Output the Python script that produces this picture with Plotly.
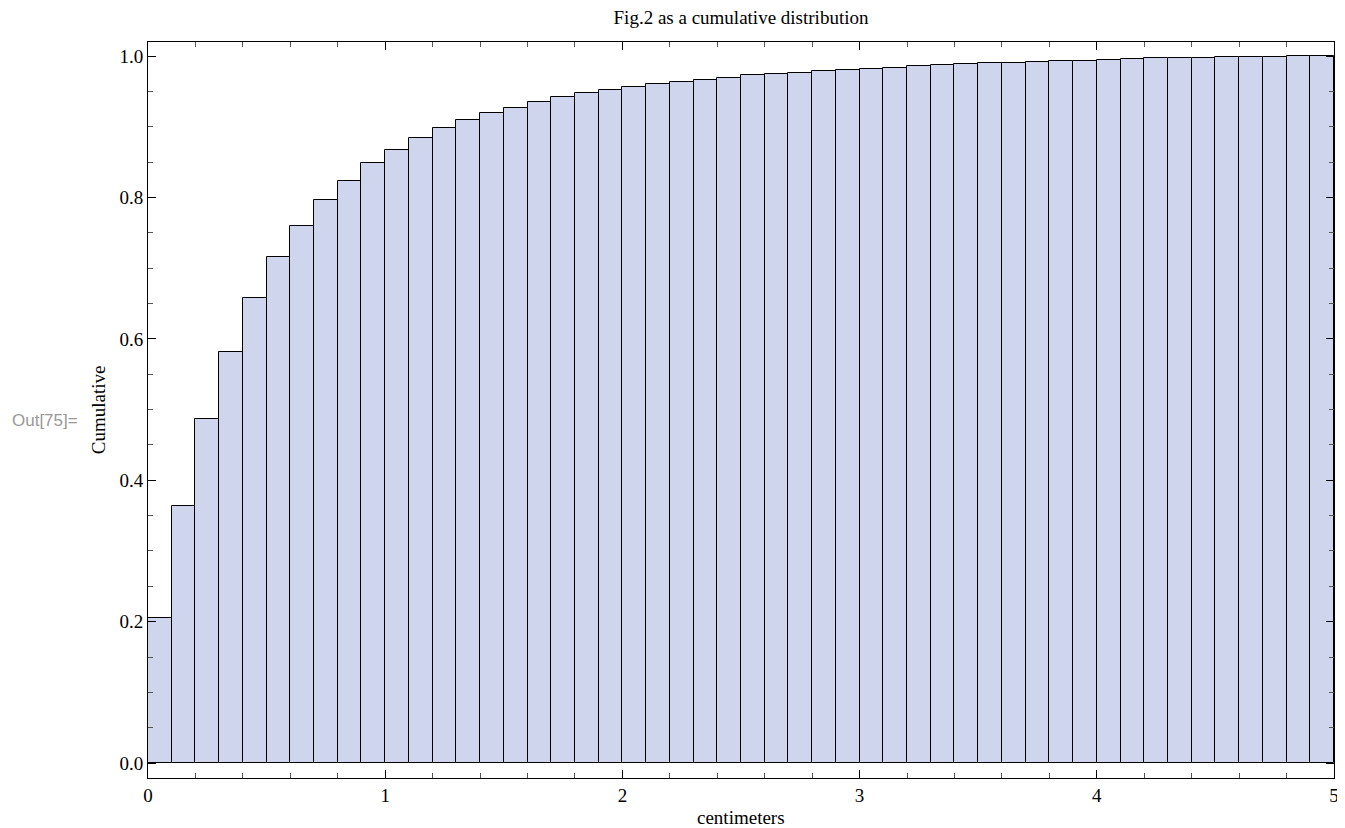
import plotly.graph_objects as go

# Bin left edges (centimeters), bin width 0.1
bin_width = 0.1
bin_left = [round(i * bin_width, 1) for i in range(50)]

# Cumulative values
cumulative = [
    0.205, 0.364, 0.487, 0.582, 0.658, 0.716, 0.760, 0.796, 0.824, 0.849,
    0.868, 0.884, 0.898, 0.910, 0.920, 0.927, 0.935, 0.942, 0.948, 0.952,
    0.956, 0.961, 0.964, 0.967, 0.969, 0.973, 0.975, 0.977, 0.979, 0.980,
    0.982, 0.984, 0.986, 0.988, 0.989, 0.990, 0.991, 0.992, 0.993, 0.994,
    0.995, 0.996, 0.997, 0.997, 0.998, 0.999, 0.999, 0.9995, 1.000, 1.000,
]

title_text = "Fig.2 as a cumulative distribution"
x_title = "centimeters"
y_title = "Cumulative"
out_label = "Out[75]="

serif = "Liberation Serif, Times New Roman, serif"
sans = "Liberation Sans, Arial, sans-serif"

W, H = 1337, 820
L, R, T, B = 140, 6, 34, 50
plot_w = W - L - R
plot_h = H - T - B

fig = go.Figure()
fig.add_trace(go.Bar(
    x=bin_left,
    y=cumulative,
    width=bin_width,
    offset=0,
    marker=dict(color="#D0D5EE", line=dict(color="#000000", width=1)),
    showlegend=False,
    hoverinfo="x+y",
))

fig.update_layout(
    width=W,
    height=H,
    margin=dict(l=L, r=R, t=T, b=B),
    paper_bgcolor="white",
    plot_bgcolor="white",
    bargap=0,
    title=dict(
        text=title_text,
        xref="paper", x=0.5, xanchor="center",
        yref="container", y=1 - 9 / H, yanchor="middle",
        font=dict(family=serif, size=19, color="#000000"),
    ),
    font=dict(family=serif, size=19, color="#000000"),
    xaxis=dict(
        range=[0, 5],
        tickmode="linear", tick0=0, dtick=1,
        ticks="inside", ticklen=8, tickwidth=1, tickcolor="#000000",
        minor=dict(tickmode="linear", tick0=0, dtick=0.2, ticks="inside", ticklen=5,
                   tickcolor="#555555", tickwidth=1, showgrid=False),
        showline=True, linecolor="#000000", linewidth=1, mirror="allticks",
        showgrid=False, zeroline=False,
        ticklabeloverflow="allow",
        tickfont=dict(family=serif, size=19),
    ),
    yaxis=dict(
        range=[-0.0212, 1.0202],
        tickmode="linear", tick0=0, dtick=0.2, tickformat=".1f",
        ticks="inside", ticklen=8, tickwidth=1, tickcolor="#000000",
        minor=dict(tickmode="linear", tick0=0, dtick=0.05, ticks="inside", ticklen=5,
                   tickcolor="#555555", tickwidth=1, showgrid=False),
        showline=True, linecolor="#000000", linewidth=1, mirror="allticks",
        showgrid=False, zeroline=False,
        ticklabeloverflow="allow",
        tickfont=dict(family=serif, size=19),
    ),
    annotations=[
        dict(
            text=x_title, xref="paper", yref="paper",
            x=0.5, y=(plot_h + T - (817 - 8)) / plot_h,
            xanchor="center", yanchor="middle", showarrow=False,
            font=dict(family=serif, size=19, color="#000000"),
        ),
        dict(
            text=y_title, xref="paper", yref="paper", textangle=-90,
            x=(98 - 8 - L) / plot_w, y=0.5,
            xanchor="center", yanchor="middle", showarrow=False,
            font=dict(family=serif, size=19, color="#000000"),
        ),
        dict(
            text=out_label, xref="paper", yref="paper",
            x=(1 - L) / plot_w, y=(plot_h + T - (420 - 8)) / plot_h,
            xanchor="left", yanchor="middle", showarrow=False,
            font=dict(family=sans, size=17, color="#999999"),
        ),
    ],
)

fig.write_html("out.html")
